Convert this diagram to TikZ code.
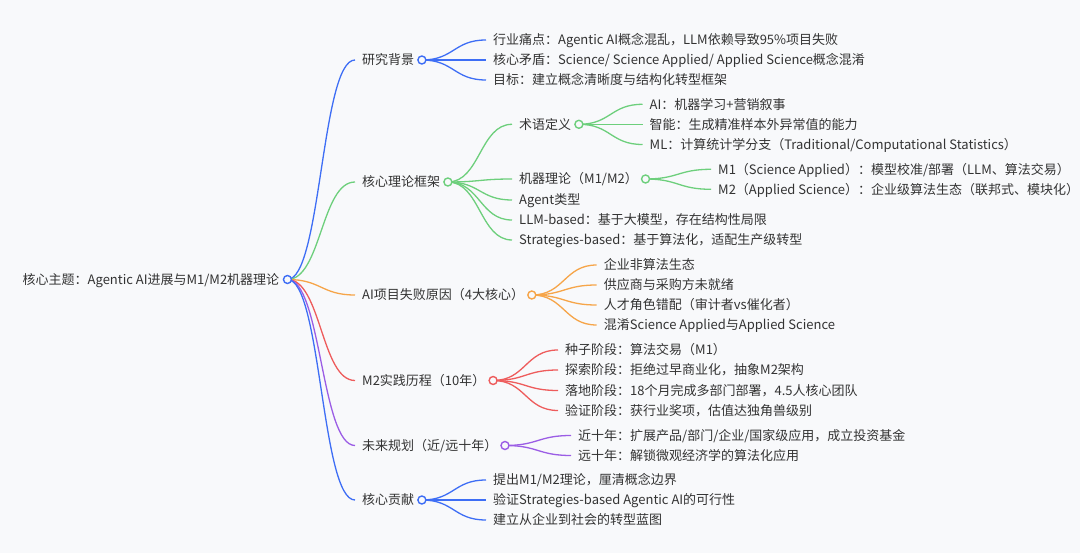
\documentclass[tikz,border=0pt]{standalone}
\usepackage{fontspec}
\newfontfamily\cjk{Noto Sans CJK SC}
\usetikzlibrary{calc}
\definecolor{bgc}{HTML}{F8F9FB}
\definecolor{cblue}{HTML}{3E6EF5}
\definecolor{cgreen}{HTML}{6DCF7C}
\definecolor{corange}{HTML}{F6A549}
\definecolor{cred}{HTML}{EE5C5C}
\definecolor{cpurple}{HTML}{9B5DE5}
\definecolor{txt}{HTML}{333333}
\pgfdeclarelayer{back}
\pgfdeclarelayer{links}
\pgfsetlayers{back,links,main}
\tikzset{
  lbl/.style={anchor=west, inner sep=0pt, text height=9.9pt, text depth=0pt,
    font=\cjk\fontsize{13}{15}\selectfont, text=txt},
  dot/.style={circle, draw=#1, fill=bgc, line width=1.4pt, minimum size=8pt, inner sep=0pt},
  link/.style={draw=#1, line width=1.3pt},
}
% name, x, y, text
\newcommand\mmnode[4]{%
  \node[lbl] (#1) at (#2,#3) {#4};
  \coordinate (#1-i) at ([xshift=-7pt]#1.west);}
% name, colour : dot after the text
\newcommand\mmdot[2]{%
  \node[dot=#2] (#1-d) at ([xshift=7.5pt]#1.east) {};}
% colour, from, to
\newcommand\mmlink[3]{%
  \draw[link=#1] let \p1=(#2), \p2=(#3) in
    (\p1) .. controls ({(\x1+\x2)/2},\y1) and ({(\x1+\x2)/2},\y2) .. (\p2);}

\begin{document}
\begin{tikzpicture}[x=1pt,y=-1pt]
\begin{pgfonlayer}{back}
  \path[fill=bgc] (0,0) rectangle (1080,553);
\end{pgfonlayer}
\useasboundingbox (0,0) rectangle (1080,553);

% root
\node[lbl] (root) at (22.5,279.5) {核心主题：Agentic AI进展与M1/M2机器理论};
\node[dot=cblue] (root-d) at ([xshift=8pt]root.east) {};

% level 1
\mmnode{bgd}{362}{60}{研究背景}
\mmdot{bgd}{cblue}
\mmnode{thf}{362}{182}{核心理论框架}
\mmdot{thf}{cgreen}
\mmnode{fail}{362}{295}{AI项目失败原因（4大核心）}
\mmdot{fail}{corange}
\mmnode{prac}{362}{380.5}{M2实践历程（10年）}
\mmdot{prac}{cred}
\mmnode{fut}{362}{445.5}{未来规划（近/远十年）}
\mmdot{fut}{cpurple}
\mmnode{con}{362}{500}{核心贡献}
\mmdot{con}{cblue}

% 研究背景
\mmnode{b1}{493}{40}{行业痛点：Agentic AI概念混乱，LLM依赖导致95\%项目失败}
\mmnode{b2}{493}{60}{核心矛盾：Science/ Science Applied/ Applied Science概念混淆}
\mmnode{b3}{493}{80}{目标：建立概念清晰度与结构化转型框架}

% 核心理论框架
\mmnode{t1}{519}{124.3}{术语定义}
\mmdot{t1}{cgreen}
\mmnode{t2}{519}{179}{机器理论（M1/M2）}
\mmdot{t2}{cgreen}
\mmnode{t3}{519}{200}{Agent类型}
\mmnode{t4}{519}{220}{LLM-based：基于大模型，存在结构性局限}
\mmnode{t5}{519}{240}{Strategies-based：基于算法化，适配生产级转型}

\mmnode{t11}{649.5}{104.3}{AI：机器学习+营销叙事}
\mmnode{t12}{649.5}{124.3}{智能：生成精准样本外异常值的能力}
\mmnode{t13}{649.5}{144.5}{ML：计算统计学分支（Traditional/Computational Statistics）}

\mmnode{t21}{718}{169.3}{M1（Science Applied）：模型校准/部署（LLM、算法交易）}
\mmnode{t22}{718}{189.3}{M2（Applied Science）：企业级算法生态（联邦式、模块化）}

% AI项目失败原因
\mmnode{f1}{603.7}{265}{企业非算法生态}
\mmnode{f2}{603.7}{285}{供应商与采购方未就绪}
\mmnode{f3}{603.7}{305}{人才角色错配（审计者vs催化者）}
\mmnode{f4}{603.7}{325}{混淆Science Applied与Applied Science}

% M2实践历程
\mmnode{p1}{565}{350}{种子阶段：算法交易（M1）}
\mmnode{p2}{565}{370}{探索阶段：拒绝过早商业化，抽象M2架构}
\mmnode{p3}{565}{390.5}{落地阶段：18个月完成多部门部署，4.5人核心团队}
\mmnode{p4}{565}{410.5}{验证阶段：获行业奖项，估值达独角兽级别}

% 未来规划
\mmnode{u1}{578}{435.5}{近十年：扩展产品/部门/企业/国家级应用，成立投资基金}
\mmnode{u2}{578}{455.5}{远十年：解锁微观经济学的算法化应用}

% 核心贡献
\mmnode{c1}{493}{480}{提出M1/M2理论，厘清概念边界}
\mmnode{c2}{493}{500}{验证Strategies-based Agentic AI的可行性}
\mmnode{c3}{493}{520}{建立从企业到社会的转型蓝图}

\begin{pgfonlayer}{links}
  \mmlink{cblue}{root-d}{bgd-i}
  \mmlink{cgreen}{root-d}{thf-i}
  \mmlink{corange}{root-d}{fail-i}
  \mmlink{cred}{root-d}{prac-i}
  \mmlink{cpurple}{root-d}{fut-i}
  \mmlink{cblue}{root-d}{con-i}

  \mmlink{cblue}{bgd-d}{b1-i}
  \mmlink{cblue}{bgd-d}{b2-i}
  \mmlink{cblue}{bgd-d}{b3-i}

  \mmlink{cgreen}{thf-d}{t1-i}
  \mmlink{cgreen}{thf-d}{t2-i}
  \mmlink{cgreen}{thf-d}{t3-i}
  \mmlink{cgreen}{thf-d}{t4-i}
  \mmlink{cgreen}{thf-d}{t5-i}
  \mmlink{cgreen}{t1-d}{t11-i}
  \mmlink{cgreen}{t1-d}{t12-i}
  \mmlink{cgreen}{t1-d}{t13-i}
  \mmlink{cgreen}{t2-d}{t21-i}
  \mmlink{cgreen}{t2-d}{t22-i}

  \mmlink{corange}{fail-d}{f1-i}
  \mmlink{corange}{fail-d}{f2-i}
  \mmlink{corange}{fail-d}{f3-i}
  \mmlink{corange}{fail-d}{f4-i}

  \mmlink{cred}{prac-d}{p1-i}
  \mmlink{cred}{prac-d}{p2-i}
  \mmlink{cred}{prac-d}{p3-i}
  \mmlink{cred}{prac-d}{p4-i}

  \mmlink{cpurple}{fut-d}{u1-i}
  \mmlink{cpurple}{fut-d}{u2-i}

  \mmlink{cblue}{con-d}{c1-i}
  \mmlink{cblue}{con-d}{c2-i}
  \mmlink{cblue}{con-d}{c3-i}
\end{pgfonlayer}
\end{tikzpicture}
\end{document}
